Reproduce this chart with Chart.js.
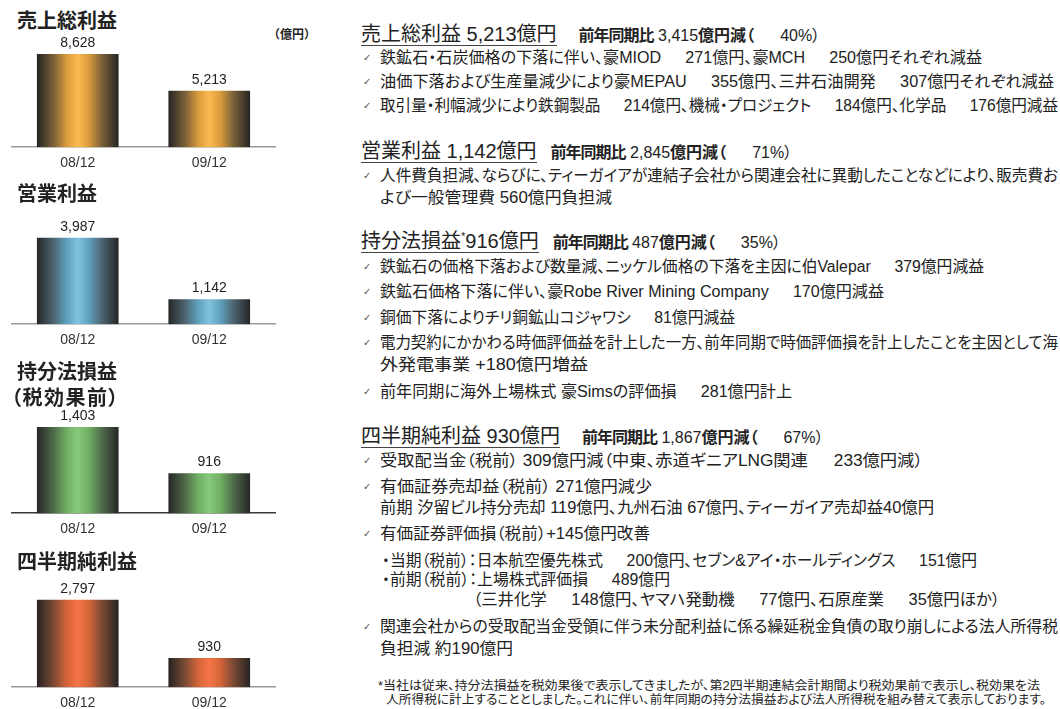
<!DOCTYPE html>
<html lang="ja">
<head>
<meta charset="utf-8">
<script src="https://cdn.jsdelivr.net/npm/chart.js@4.4.1/dist/chart.umd.min.js"></script>
<style>
html, body { margin: 0; padding: 0; background: #fff; }
body { width: 1060px; height: 709px; position: relative; overflow: hidden;
       font-family: "Liberation Sans", "Noto Sans CJK JP", sans-serif; color: #222; }
.ttl { position: absolute; left: 17px; font-family: "Noto Sans CJK JP", sans-serif; font-weight: bold;
       font-size: 20px; line-height: 22px; color: #222; white-space: nowrap; }
.unit { position: absolute; left: 268px; top: 27px; font-family: "Noto Sans CJK JP", sans-serif;
        font-size: 12px; line-height: 14px; font-weight: bold; }
canvas.cv { position: absolute; left: 0; }
.ln { position: absolute; left: 380px; font-size: 16px; line-height: 20px; white-space: nowrap;
      font-feature-settings: "palt"; transform-origin: 0 50%; }
.ck { position: absolute; left: 363px; font-family: "DejaVu Sans", sans-serif; font-size: 10px; line-height: 20px; color: #555; }
.sp { display: inline-block; width: 24px; }
.hd { position: absolute; left: 361px; white-space: nowrap; line-height: 24px; font-feature-settings: "palt"; }
.hd .big { font-size: 20px; display: inline-block; line-height: 22px; border-bottom: 1.5px solid #444; }
.hd .big sup { font-size: 11px; vertical-align: 8px; line-height: 0; }
.hd .sm { font-size: 16px; }
.hd .sm b.k { letter-spacing: -1px; }
.hd .sm .g { display: inline-block; width: 26px; }
.fn { position: absolute; font-size: 12px; line-height: 14px; white-space: nowrap; font-feature-settings: "palt";
      transform-origin: 0 50%; }
</style>
</head>
<body>

<div class="ttl" style="top:9px">売上総利益</div>
<div class="unit">（億円）</div>
<canvas class="cv" id="c1" width="290" height="150"></canvas>

<div class="ttl" style="top:182px">営業利益</div>
<canvas class="cv" id="c2" width="290" height="150"></canvas>

<div class="ttl" style="top:360px">持分法損益</div>
<div class="ttl" style="top:386px; left:11px; font-feature-settings:'palt'; letter-spacing:1.5px">（税効果前）</div>
<canvas class="cv" id="c3" width="290" height="150"></canvas>

<div class="ttl" style="top:550px">四半期純利益</div>
<canvas class="cv" id="c4" width="290" height="150"></canvas>

<div class="hd" style="top:23px"><span class="big">売上総利益 5,213億円</span><span class="sm" style="margin-left:22px"><b class="k">前年同期比</b> 3,415<b>億円減（</b><span class="g"></span>40%）</span></div>
<div class="hd" style="top:140px"><span class="big">営業利益 1,142億円</span><span class="sm" style="margin-left:14px"><b class="k">前年同期比</b> 2,845<b>億円減（</b><span class="g"></span>71%）</span></div>
<div class="hd" style="top:230px"><span class="big">持分法損益<sup>*</sup>916億円</span><span class="sm" style="margin-left:14px"><b class="k">前年同期比</b> 487<b>億円減（</b><span class="g"></span>35%）</span></div>
<div class="hd" style="top:425px"><span class="big">四半期純利益 930億円</span><span class="sm" style="margin-left:22px"><b class="k">前年同期比</b> 1,867<b>億円減（</b><span class="g"></span>67%）</span></div>

<div id="notes"></div>

<script>
// 数値（億円）
const periods = ['08/12', '09/12'];
const grossProfit = [8628, 5213];
const operatingIncome = [3987, 1142];
const equityIncome = [1403, 916];
const netIncome = [2797, 930];

// グラデーション（端が暗く中央が明るい）
const gold   = ['#262524', '#7a6038', '#d89b3c', '#fbb94f'];
const blue   = ['#262728', '#4c6470', '#5fa0bd', '#7fc3dc'];
const green  = ['#262826', '#4f6a4a', '#6fae63', '#88c97c'];
const orange = ['#272423', '#7a4a34', '#d4643a', '#f57446'];

const valueLabels = {
    id: 'valueLabels',
    afterDatasetsDraw(chart) {
        const c = chart.ctx;
        const ds = chart.data.datasets[0];
        c.save();
        c.font = '14px "Liberation Sans", Arial, sans-serif';
        c.fillStyle = '#222';
        c.textAlign = 'center';
        c.textBaseline = 'bottom';
        chart.getDatasetMeta(0).data.forEach((bar, i) => {
            c.fillText(ds.data[i].toLocaleString('en-US'), bar.x, bar.y - 4);
        });
        c.restore();
    }
};

function makeChart(id, values, shades, yMin, yMax, axisColor, baseline) {
    const half = 40.5;
    const chart = new Chart(document.getElementById(id), {
        type: 'bar',
        data: {
            labels: periods,
            datasets: [{
                data: values,
                backgroundColor: function(ctx) {
                    const ch = ctx.chart;
                    if (ctx.dataIndex === undefined || !ch.scales.x) return shades[3];
                    const cx = ch.scales.x.getPixelForValue(ctx.dataIndex);
                    if (!isFinite(cx)) return shades[3];
                    const g = ch.ctx.createLinearGradient(cx - half, 0, cx + half, 0);
                    g.addColorStop(0, shades[0]);
                    g.addColorStop(0.2, shades[1]);
                    g.addColorStop(0.36, shades[2]);
                    g.addColorStop(0.5, shades[3]);
                    g.addColorStop(0.64, shades[2]);
                    g.addColorStop(0.8, shades[1]);
                    g.addColorStop(1, shades[0]);
                    return g;
                },
                borderWidth: 0,
                barThickness: 81
            }]
        },
        options: {
            responsive: false,
            animation: false,
            layout: { padding: { left: 12, right: 15, top: 14, bottom: 0 } },
            plugins: { legend: { display: false }, tooltip: { enabled: false } },
            scales: {
                x: {
                    grid: { display: false, drawTicks: false },
                    border: { display: true, color: axisColor, width: 1.5 },
                    ticks: { padding: 8, color: '#333', font: { family: '"Liberation Sans", Arial', size: 14 } }
                },
                y: { display: false, min: yMin, max: yMax, beginAtZero: false }
            }
        },
        plugins: [valueLabels]
    });
    chart.canvas.style.top = (baseline - chart.chartArea.bottom) + 'px';
    return chart;
}

makeChart('c1', grossProfit, gold, 0, 9580, '#9a9a9a', 147);
makeChart('c2', operatingIncome, blue, 0, 4784, '#9a9a9a', 324);
makeChart('c3', equityIncome, green, 500, 1584, '#3a3a3a', 513);
makeChart('c4', netIncome, orange, 0, 3318, '#9a9a9a', 687);

// 右側の説明文（y: 行の中心, r: 行の右端）
const notes = [
    { y: 58, r: 982, ck: true, t: '鉄鉱石・石炭価格の下落に伴い、豪MIOD§271億円、豪MCH§250億円それぞれ減益' },
    { y: 82, r: 1054, ck: true, t: '油価下落および生産量減少により豪MEPAU§355億円、三井石油開発§307億円それぞれ減益' },
    { y: 106, r: 1058, ck: true, t: '取引量・利幅減少により鉄鋼製品§214億円、機械・プロジェクト§184億円、化学品§176億円減益' },
    { y: 176, r: 1058, ck: true, t: '人件費負担減、ならびに、ティーガイアが連結子会社から関連会社に異動したことなどにより、販売費お' },
    { y: 198, r: 612, t: 'よび一般管理費 560億円負担減' },
    { y: 267, r: 984, ck: true, t: '鉄鉱石の価格下落および数量減、ニッケル価格の下落を主因に伯Valepar§379億円減益' },
    { y: 292, r: 884, ck: true, t: '鉄鉱石価格下落に伴い、豪Robe River Mining Company§170億円減益' },
    { y: 318, r: 735, ck: true, t: '銅価下落によりチリ銅鉱山コジャワシ§81億円減益' },
    { y: 343, r: 1058, ck: true, t: '電力契約にかかわる時価評価益を計上した一方、前年同期で時価評価損を計上したことを主因として海' },
    { y: 365, r: 588, t: '外発電事業 +180億円増益' },
    { y: 392, r: 792, ck: true, t: '前年同期に海外上場株式 豪Simsの評価損§281億円計上' },
    { y: 461, r: 923, ck: true, t: '受取配当金（税前） 309億円減（中東、赤道ギニアLNG関連§233億円減）' },
    { y: 487, r: 652, ck: true, t: '有価証券売却益（税前） 271億円減少' },
    { y: 508, r: 934, t: '前期 汐留ビル持分売却 119億円、九州石油 67億円、ティーガイア売却益40億円' },
    { y: 534, r: 650, ck: true, t: '有価証券評価損（税前）+145億円改善' },
    { y: 561, x: 382, r: 977, t: '・当期（税前）：日本航空優先株式§200億円、セブン&amp;アイ・ホールディングス§151億円' },
    { y: 580, x: 382, r: 670, t: '・前期（税前）：上場株式評価損§489億円' },
    { y: 600, x: 473, r: 1000, t: '（三井化学§148億円、ヤマハ発動機§77億円、石原産業§35億円ほか）' },
    { y: 627, r: 1058, ck: true, t: '関連会社からの受取配当金受領に伴う未分配利益に係る繰延税金負債の取り崩しによる法人所得税' },
    { y: 649, r: 513, t: '負担減 約190億円' }
];

const footnotes = [
    { y: 686, x: 378, r: 1040, t: '*当社は従来、持分法損益を税効果後で表示してきましたが、第2四半期連結会計期間より税効果前で表示し、税効果を法' },
    { y: 700, x: 386, r: 1046, t: '人所得税に計上することとしました。これに伴い、前年同期の持分法損益および法人所得税を組み替えて表示しております。' }
];

const box = document.getElementById('notes');

function fitLine(d, left, right) {
    const w = d.getBoundingClientRect().width;
    if (w > 0) d.style.transform = 'scaleX(' + ((right - left) / w).toFixed(4) + ')';
}

notes.forEach(n => {
    const left = n.x || 380;
    if (n.ck) {
        const c = document.createElement('div');
        c.className = 'ck';
        c.style.top = (n.y - 10) + 'px';
        c.textContent = '✓';
        box.appendChild(c);
    }
    const d = document.createElement('div');
    d.className = 'ln';
    d.style.top = (n.y - 10) + 'px';
    d.style.left = left + 'px';
    d.innerHTML = n.t.split('§').join('<span class="sp"></span>');
    box.appendChild(d);
    fitLine(d, left, n.r);
});

footnotes.forEach(n => {
    const d = document.createElement('div');
    d.className = 'fn';
    d.style.top = (n.y - 7) + 'px';
    d.style.left = n.x + 'px';
    d.textContent = n.t;
    box.appendChild(d);
    fitLine(d, n.x, n.r);
});
</script>
</body>
</html>
